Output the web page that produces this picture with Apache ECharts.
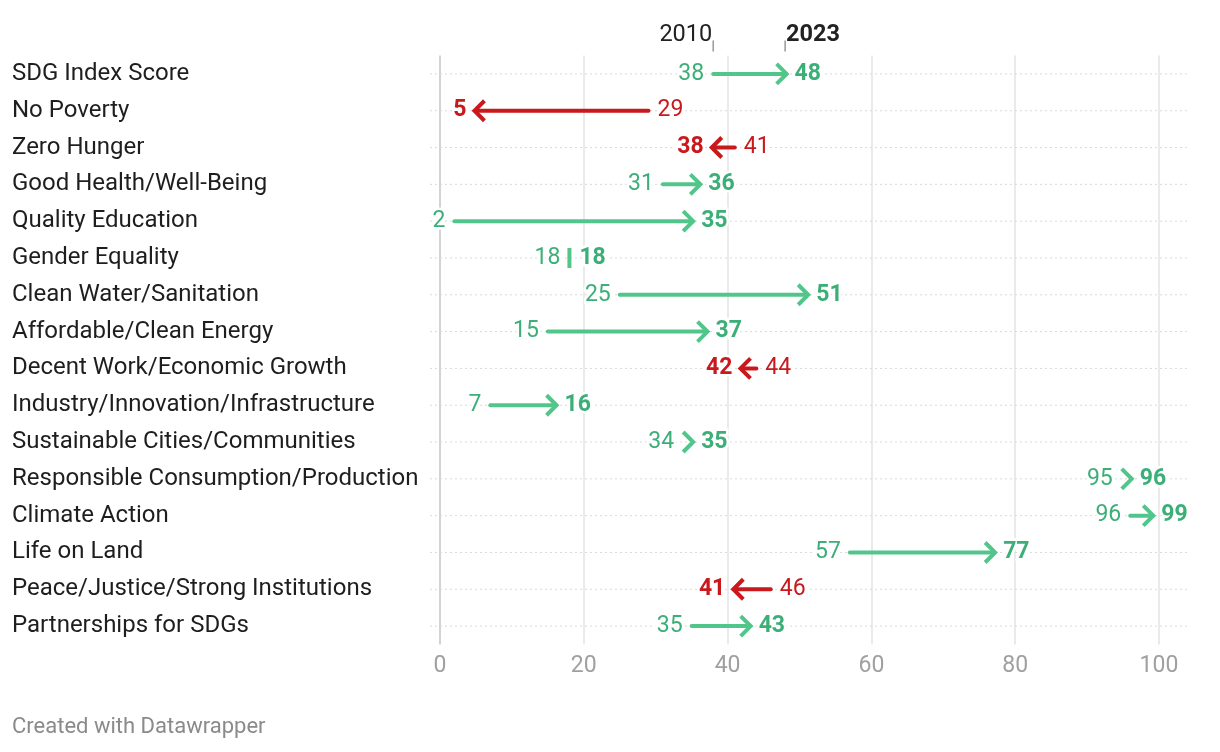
<!DOCTYPE html>
<html>
<head>
<meta charset="utf-8">
<script src="https://cdn.jsdelivr.net/npm/echarts@6/dist/echarts.min.js"></script>
<style>
  html, body { margin: 0; padding: 0; background: #fff; }
  #chart { width: 1220px; height: 752px; }
</style>
</head>
<body>
<div id="chart"></div>
<script>
const categories = [
  "SDG Index Score", "No Poverty", "Zero Hunger", "Good Health/Well-Being",
  "Quality Education", "Gender Equality", "Clean Water/Sanitation",
  "Affordable/Clean Energy", "Decent Work/Economic Growth",
  "Industry/Innovation/Infrastructure", "Sustainable Cities/Communities",
  "Responsible Consumption/Production", "Climate Action", "Life on Land",
  "Peace/Justice/Strong Institutions", "Partnerships for SDGs"
];
const score2010 = [38, 29, 41, 31, 2, 18, 25, 15, 44, 7, 34, 95, 96, 57, 46, 35];
const score2023 = [48, 5, 38, 36, 35, 18, 51, 37, 42, 16, 35, 96, 99, 77, 41, 43];
const yearLabels = ["2010", "2023"];
const footerText = "Created with Datawrapper";

const FONT = "Roboto";
const GREEN_LINE = "#52c68a";
const GREEN_TEXT = "#3caf78";
const RED = "#c8191c";
const VAL_SIZE = 23;

const chart = echarts.init(document.getElementById("chart"), null, { renderer: "canvas" });

function textEl(x, y, text, align, color, bold, size) {
  return {
    type: "text",
    z2: 10,
    style: {
      x: x, y: y, text: text,
      align: align, verticalAlign: "middle",
      fill: color,
      font: (bold ? "bold " : "") + (size || VAL_SIZE) + "px " + FONT,
      stroke: "#fff", lineWidth: 5
    }
  };
}

function renderItem(params, api) {
  const i = api.value(0);
  const s = api.value(1);
  const e = api.value(2);
  const p0 = api.coord([s, i]);
  const p1 = api.coord([e, i]);
  const y = p0[1];
  const cs = params.coordSys;
  const children = [];
  children.push({
    type: "line", z2: 0,
    shape: { x1: cs.x - 10, y1: y, x2: cs.x + cs.width + 29, y2: y },
    style: { stroke: "#d9d9d9", lineWidth: 1, lineDash: [2, 3] }
  });
  const dir = Math.sign(e - s);
  const head = 10;
  if (dir === 0) {
    children.push({
      type: "line", z2: 5,
      shape: { x1: p0[0], y1: y - 10, x2: p0[0], y2: y + 10 },
      style: { stroke: GREEN_LINE, lineWidth: 4 }
    });
    children.push(textEl(p0[0] - 9, y, String(s), "right", GREEN_TEXT, false));
    children.push(textEl(p0[0] + 10, y, String(e), "left", GREEN_TEXT, true));
  } else {
    const lineColor = dir > 0 ? GREEN_LINE : RED;
    const txtColor = dir > 0 ? GREEN_TEXT : RED;
    const tip = p1[0] + dir * 1.5;
    const back = tip - dir * head;
    const startX = p0[0];
    if ((tip - startX) * dir > head) {
      children.push({
        type: "line", z2: 5,
        shape: { x1: startX, y1: y, x2: tip - dir * 2, y2: y },
        style: { stroke: lineColor, lineWidth: 4, lineCap: "round" }
      });
    }
    children.push({
      type: "polyline", z2: 6,
      shape: { points: [[back, y - head], [tip, y], [back, y + head]] },
      style: { stroke: lineColor, lineWidth: 4, fill: null, lineJoin: "miter", lineCap: "butt" }
    });
    const labStart = dir > 0 ? Math.min(startX, back) : Math.max(startX, back);
    children.push(textEl(labStart - dir * 9, y, String(s), dir > 0 ? "right" : "left", txtColor, false));
    children.push(textEl(tip + dir * 8, y, String(e), dir > 0 ? "left" : "right", txtColor, true));
  }
  if (i === 0) {
    const hy = cs.y - 9;
    children.push({
      type: "line", z2: 5,
      shape: { x1: p0[0], y1: hy - 6, x2: p0[0], y2: hy + 5 },
      style: { stroke: "#999", lineWidth: 1.5 }
    });
    children.push({
      type: "line", z2: 5,
      shape: { x1: p1[0], y1: hy - 6, x2: p1[0], y2: hy + 5 },
      style: { stroke: "#999", lineWidth: 1.5 }
    });
    children.push({
      type: "text", z2: 10,
      style: { x: p0[0] - 1, y: 35, text: yearLabels[0], align: "right", verticalAlign: "middle",
               fill: "#222", font: "23.5px " + FONT }
    });
    children.push({
      type: "text", z2: 10,
      style: { x: p1[0] + 1, y: 35, text: yearLabels[1], align: "left", verticalAlign: "middle",
               fill: "#222", font: "bold 23.5px " + FONT }
    });
  }
  return { type: "group", children: children };
}

const data = categories.map((c, i) => [i, score2010[i], score2023[i]]);

chart.setOption({
  animation: false,
  backgroundColor: "#fff",
  grid: { left: 440, right: 61, top: 55.5, height: 589 },
  xAxis: {
    type: "value", min: 0, max: 100, interval: 20,
    axisLine: { show: false },
    axisTick: { show: false },
    axisLabel: { color: "#a0a0a0", fontFamily: FONT, fontSize: 23, margin: 10 },
    splitLine: {
      show: true,
      lineStyle: { color: ["#c4c4c4", "#e3e3e3", "#e3e3e3", "#e3e3e3", "#e3e3e3", "#e3e3e3"], width: 1.5 }
    }
  },
  yAxis: {
    type: "category", data: categories, inverse: true,
    axisLine: { show: false },
    axisTick: { show: false },
    splitLine: { show: false },
    axisLabel: {
      align: "left", margin: 428, color: "#1e1e1e",
      fontFamily: FONT, fontSize: 24
    }
  },
  graphic: [{
    type: "text", left: 12, top: 716,
    style: { text: footerText, fill: "#8a8a8a", font: "22px " + FONT }
  }],
  series: [{
    type: "custom",
    renderItem: renderItem,
    encode: { x: [1, 2], y: 0 },
    data: data,
    clip: false
  }]
});
</script>
</body>
</html>
